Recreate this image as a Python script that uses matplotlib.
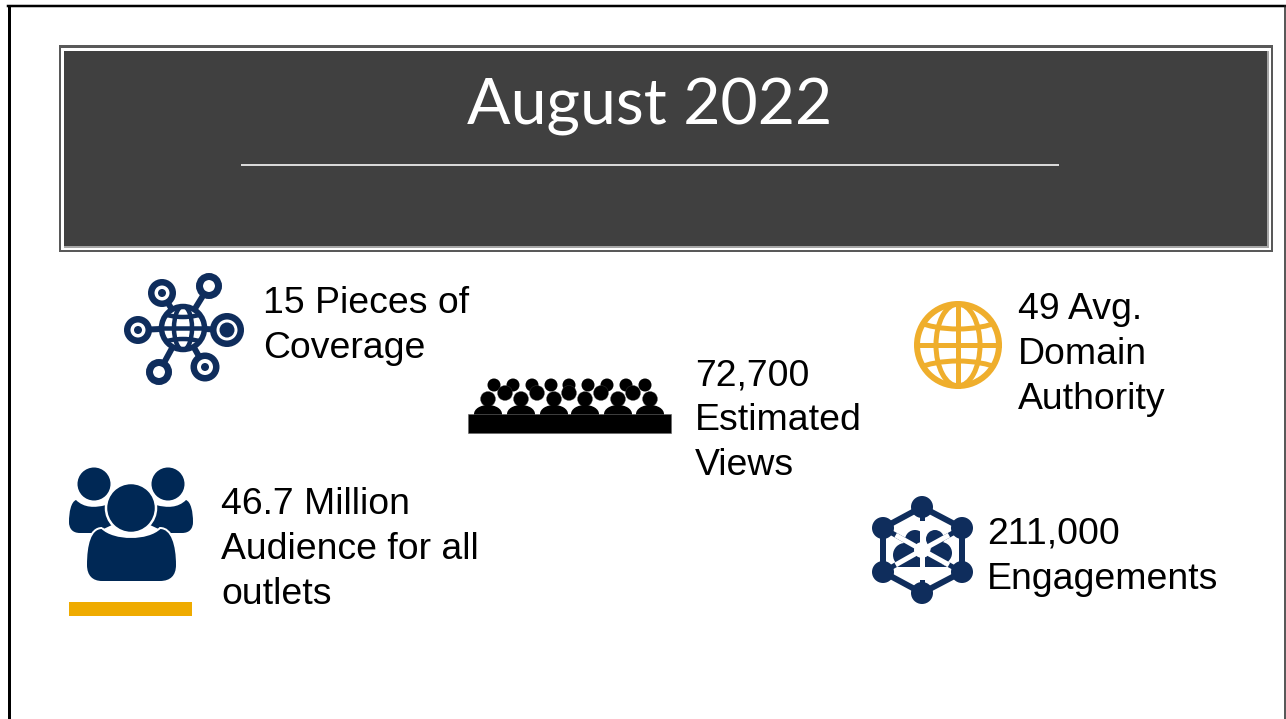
import numpy as np
import matplotlib
matplotlib.use('Agg')
import matplotlib.pyplot as plt
from matplotlib.patches import Circle, Ellipse, Rectangle, Polygon, PathPatch
from matplotlib.path import Path

title = 'August 2022'
coverage_lines = ['15 Pieces of', 'Coverage']
views_lines = ['72,700', 'Estimated', 'Views']
authority_lines = ['49 Avg.', 'Domain', 'Authority']
audience_lines = ['46.7 Million', 'Audience for all', 'outlets']
engagement_lines = ['211,000', 'Engagements']

NAVY = '#0F2D5C'
DEEP_NAVY = '#002855'
GOLD = '#EFAB00'
GLOBE_GOLD = '#EFAE2C'
DARK = '#404040'
PX = 0.72  # one pixel in points at dpi 100

fig = plt.figure(figsize=(12.86, 7.19), dpi=100)
ax = fig.add_axes([0, 0, 1, 1])
ax.set_xlim(0, 1286)
ax.set_ylim(719, 0)
ax.axis('off')

# slide frame, open at the bottom
ax.plot([9, 9], [719, 6], color='black', lw=3 * PX)
ax.plot([8, 1286], [6, 6], color='black', lw=2.5 * PX)
ax.plot([1285, 1285], [6, 719], color='#222222', lw=1.5 * PX)


def box(x0, y0, x1, y1, color):
    ax.add_patch(Rectangle((x0, y0), x1 - x0, y1 - y0, fc=color, ec='none'))


# title banner, nested from the outside in
box(58.5, 45, 1273, 251.5, '#595959')
box(61, 48, 1271, 249.5, 'white')
box(63.5, 50.5, 1269, 247.5, '#A6A6A6')
box(64, 51, 1267, 246, DARK)
ax.text(650, 125, title, color='white', fontsize=46.4, family='Lato', ha='center', va='baseline')
ax.plot([242, 1058], [164.5, 164.5], color='#D9D9D9', lw=2 * PX)


def write_lines(x, y, lines):
    for i, line in enumerate(lines):
        ax.text(x, y + i * 45, line, color='black', fontsize=26.9, family='Liberation Sans', va='baseline')


write_lines(263, 313, coverage_lines)
write_lines(695, 385, views_lines)
write_lines(1018, 319, authority_lines)
write_lines(221, 514, audience_lines)
write_lines(987, 544, engagement_lines)


# network icon with globe in the middle
def network_icon():
    cx, cy = 183, 328
    nodes = [(162, 293, 14, 4), (209, 286, 13, 0), (138, 330, 14, 4),
             (227, 330, 17, 7.5), (159, 372, 13, 0), (205, 367, 14.5, 4)]
    for x, y, r, dot in nodes:
        ax.plot([cx, x], [cy, y], color=NAVY, lw=6 * PX, zorder=2)
    for x, y, r, dot in nodes:
        ring = 6.5 if dot else 7
        ax.add_patch(Circle((x, y), r - ring / 2, fc='white', ec=NAVY, lw=ring * PX, zorder=3))
        if dot:
            ax.add_patch(Circle((x, y), dot, fc=NAVY, ec='none', zorder=4))
    ax.add_patch(Circle((cx, cy), 21.5, fc='white', ec=NAVY, lw=5.5 * PX, zorder=3))
    clip = Circle((cx, cy), 21, transform=ax.transData)
    for art in [Ellipse((cx, cy), 18, 44, fc='none', ec=NAVY, lw=4.5 * PX, zorder=4),
                Ellipse((cx, cy - 26), 64, 30, fc='none', ec=NAVY, lw=4.5 * PX, zorder=4),
                Ellipse((cx, cy + 26), 64, 30, fc='none', ec=NAVY, lw=4.5 * PX, zorder=4)]:
        ax.add_patch(art)
        art.set_clip_path(clip)
    ax.plot([cx - 21, cx + 21], [cy, cy], color=NAVY, lw=4.5 * PX, zorder=4)


# audience icon: three rows of heads behind a table
def seats_icon():
    for x in [494, 513, 532, 551, 569, 588, 607, 626, 645]:
        ax.add_patch(Circle((x, 385), 6.5, fc='black', ec='none', zorder=2))
    for x in [505, 537, 569, 601, 633]:
        ax.add_patch(Circle((x, 393), 7.5, fc='black', ec='#555555', lw=0.3 * PX, zorder=3))
    for x in [488, 521, 554, 585, 618, 650]:
        ax.add_patch(Circle((x, 399), 7.5, fc='black', ec='#555555', lw=0.3 * PX, zorder=4))
        ax.add_patch(Ellipse((x, 414), 28, 18, fc='black', ec='none', zorder=4))
    ax.add_patch(Rectangle((468, 414), 203, 19, fc='black', ec='#666666', lw=0.6 * PX, zorder=5))


# yellow wire globe
def globe_icon():
    cx, cy = 958, 345
    r = 41
    ax.add_patch(Circle((cx, cy), r, fc='white', ec=GLOBE_GOLD, lw=6 * PX))
    clip = Circle((cx, cy), r, transform=ax.transData)
    arts = [Ellipse((cx, cy), 44, 2 * r, fc='none', ec=GLOBE_GOLD, lw=5 * PX),
            Ellipse((cx, cy - 41), 116, 50, fc='none', ec=GLOBE_GOLD, lw=5 * PX),
            Ellipse((cx, cy + 41), 116, 50, fc='none', ec=GLOBE_GOLD, lw=5 * PX)]
    for art in arts:
        ax.add_patch(art)
        art.set_clip_path(clip)
    ax.plot([cx - r, cx + r], [cy, cy], color=GLOBE_GOLD, lw=5 * PX)
    ax.plot([cx, cx], [cy - r, cy + r], color=GLOBE_GOLD, lw=5 * PX)


# people icon with the yellow bar below
def people_icon():
    side = [(76, 500), (84, 508), (95, 508), (106, 505), (112, 525),
            (95, 533), (80, 533), (72, 533), (69, 528), (69, 522), (69, 512), (71, 502), (76, 500)]
    codes = [Path.MOVETO, Path.CURVE4, Path.CURVE4, Path.CURVE4, Path.LINETO, Path.LINETO, Path.LINETO,
             Path.CURVE4, Path.CURVE4, Path.CURVE4, Path.CURVE4, Path.CURVE4, Path.CURVE4]
    for flip in [False, True]:
        verts = [(262 - x, y) if flip else (x, y) for x, y in side]
        ax.add_patch(PathPatch(Path(verts, codes), fc=DEEP_NAVY, ec='none', zorder=2))
        ax.add_patch(Circle((168 if flip else 94, 484), 16.5, fc=DEEP_NAVY, ec='none', zorder=2))
    body = [(102, 528), (114, 540), (148, 540), (160, 528),
            (172, 528), (177, 545), (177, 565),
            (177, 576), (171, 582), (160, 582),
            (102, 582),
            (92, 582), (86, 576), (86, 565),
            (86, 545), (90, 528), (102, 528)]
    codes = [Path.MOVETO] + [Path.CURVE4] * 3 + [Path.CURVE4] * 3 + [Path.CURVE4] * 3 + [Path.LINETO] + \
            [Path.CURVE4] * 3 + [Path.CURVE4] * 3
    ax.add_patch(PathPatch(Path(body, codes), fc=DEEP_NAVY, ec='white', lw=2 * PX, zorder=3))
    ax.add_patch(Circle((131, 508), 25, fc=DEEP_NAVY, ec='white', lw=2.5 * PX, zorder=4))
    ax.add_patch(Rectangle((69, 602), 123, 14, fc=GOLD, ec='none'))


# hexagon molecule icon
def hex_icon():
    cx, cy = 922, 550
    nodes = [(922, 507), (962, 528), (962, 572), (922, 593), (883, 572), (883, 528)]
    ax.add_patch(Polygon(nodes, closed=True, fc='white', ec=NAVY, lw=6 * PX, zorder=2))
    for x, y in nodes:
        ax.plot([cx, x], [cy, y], color=NAVY, lw=5 * PX, zorder=2)
    for x, y, r in [(905, 555, 12), (915, 540, 10), (935, 539, 9), (941, 553, 11)]:
        ax.add_patch(Circle((x, y), r, fc=NAVY, ec='none', zorder=3))
    ax.add_patch(Polygon([(897, 567), (921, 567), (921, 552)], closed=True, fc=NAVY, ec='none', zorder=3))
    ax.add_patch(Polygon([(947, 567), (923, 567), (923, 552)], closed=True, fc=NAVY, ec='none', zorder=3))
    # white star cut through the blobs
    for x, y in nodes:
        ax.plot([cx, cx + (x - cx) * 0.62], [cy, cy + (y - cy) * 0.62], color='white', lw=5 * PX, zorder=4)
    ax.add_patch(Circle((cx, cy), 8, fc='white', ec='none', zorder=4))
    for x, y in nodes:
        ax.add_patch(Circle((x, y), 11, fc=NAVY, ec='none', zorder=5))


network_icon()
seats_icon()
globe_icon()
people_icon()
hex_icon()

fig.savefig('out.png', dpi=100, facecolor='white')
